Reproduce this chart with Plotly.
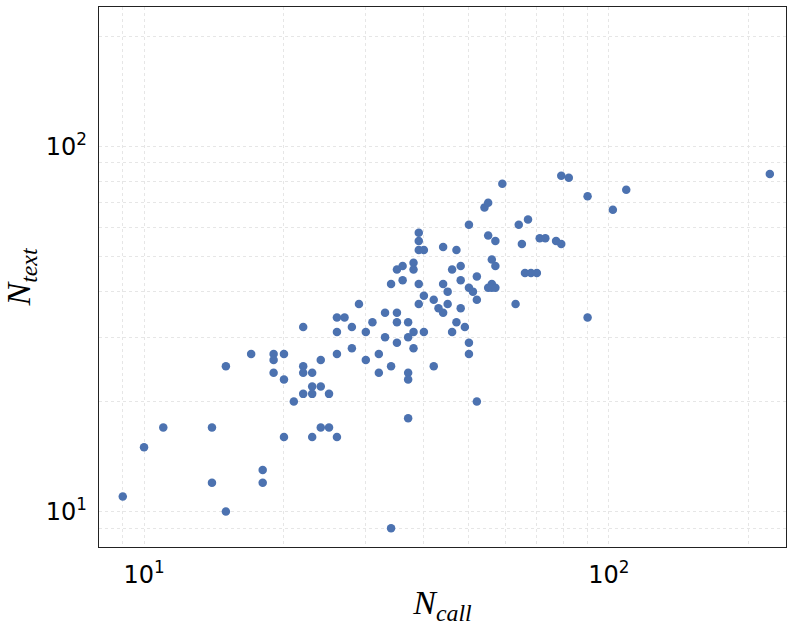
import plotly.graph_objects as go
import math

# Data (N_call, N_text)
n_call = [9, 10, 11, 14, 14, 15, 15, 17, 18, 18, 19, 19, 19, 20, 20, 20, 21,
          22, 22, 22, 22, 23, 23, 23, 23, 24, 24, 24, 25, 25, 26, 26, 26, 26,
          27, 28, 28, 29, 30, 30, 31, 32, 32, 33, 33, 34, 34, 34, 35, 35, 35,
          35, 36, 36, 37, 37, 37, 37, 37, 38, 38, 38, 38, 39, 39, 39, 39, 39,
          40, 40, 40, 42, 42, 43, 44, 44, 44, 45, 45, 46, 46, 47, 47, 48, 48,
          48, 49, 50, 50, 50, 50, 51, 52, 52, 52, 54, 55, 55, 55, 56, 56, 56,
          57, 57, 57, 59, 63, 64, 65, 66, 67, 68, 70, 71, 73, 77, 79, 79, 82,
          90, 90, 102, 109, 222]
n_text = [11, 15, 17, 17, 12, 10, 25, 27, 13, 12, 27, 26, 24, 27, 23, 16, 20,
          32, 25, 24, 21, 24, 22, 21, 16, 26, 22, 17, 21, 17, 34, 31, 27, 16,
          34, 32, 28, 37, 31, 26, 33, 27, 24, 35, 30, 42, 25, 9, 46, 35, 33,
          29, 47, 43, 33, 30, 24, 23, 18, 48, 46, 31, 28, 58, 55, 52, 42, 37,
          52, 39, 31, 38, 25, 36, 53, 42, 35, 40, 37, 46, 31, 52, 33, 47, 43,
          36, 32, 61, 41, 29, 27, 40, 44, 38, 20, 68, 70, 57, 41, 49, 42, 41,
          55, 47, 41, 79, 37, 61, 54, 45, 63, 45, 45, 56, 56, 55, 83, 54, 82,
          73, 34, 67, 76, 84]

major_ticks = [10, 100]
major_labels = ["10<sup>1</sup>", "10<sup>2</sup>"]
minor_ticks = [9, 20, 30, 40, 50, 60, 70, 80, 90, 200]
axis_min, axis_max = 8.0, 240.5

grid_col = "#e6e6e6"
tick_font = dict(family="DejaVu Sans", size=24, color="black")
title_font = dict(family="Liberation Serif", size=34, color="black")

fig = go.Figure(
    go.Scatter(
        x=n_call, y=n_text, mode="markers",
        marker=dict(size=8.5, color="#4C72B0", line=dict(width=0)),
        showlegend=False,
    )
)

def axis_style(title, standoff):
    return dict(
        type="log",
        range=[math.log10(axis_min), math.log10(axis_max)],
        tickmode="array", tickvals=major_ticks, ticktext=major_labels,
        tickfont=tick_font,
        ticks="outside", ticklen=6, tickcolor="rgba(0,0,0,0)",
        showgrid=True, gridcolor=grid_col, griddash="dot", gridwidth=1,
        minor=dict(tickmode="array", tickvals=minor_ticks, showgrid=True,
                   gridcolor=grid_col, griddash="dot", gridwidth=1, ticks=""),
        showline=True, mirror=True, linecolor="#222222", linewidth=1.3,
        zeroline=False,
        title=dict(text=title, font=title_font, standoff=standoff),
    )

fig.update_layout(
    width=793, height=630,
    margin=dict(l=99, r=7, t=7, b=83, pad=0),
    paper_bgcolor="white", plot_bgcolor="white",
    xaxis=axis_style("<i>N</i><sub><i>call</i></sub>", 2),
    yaxis=axis_style("<i>N</i><sub><i>text</i></sub>", 8),
)

fig.write_html(
    "out.html",
    config={"displayModeBar": False},
    post_script="document.body.style.margin='0px';document.body.style.overflow='hidden';",
)
